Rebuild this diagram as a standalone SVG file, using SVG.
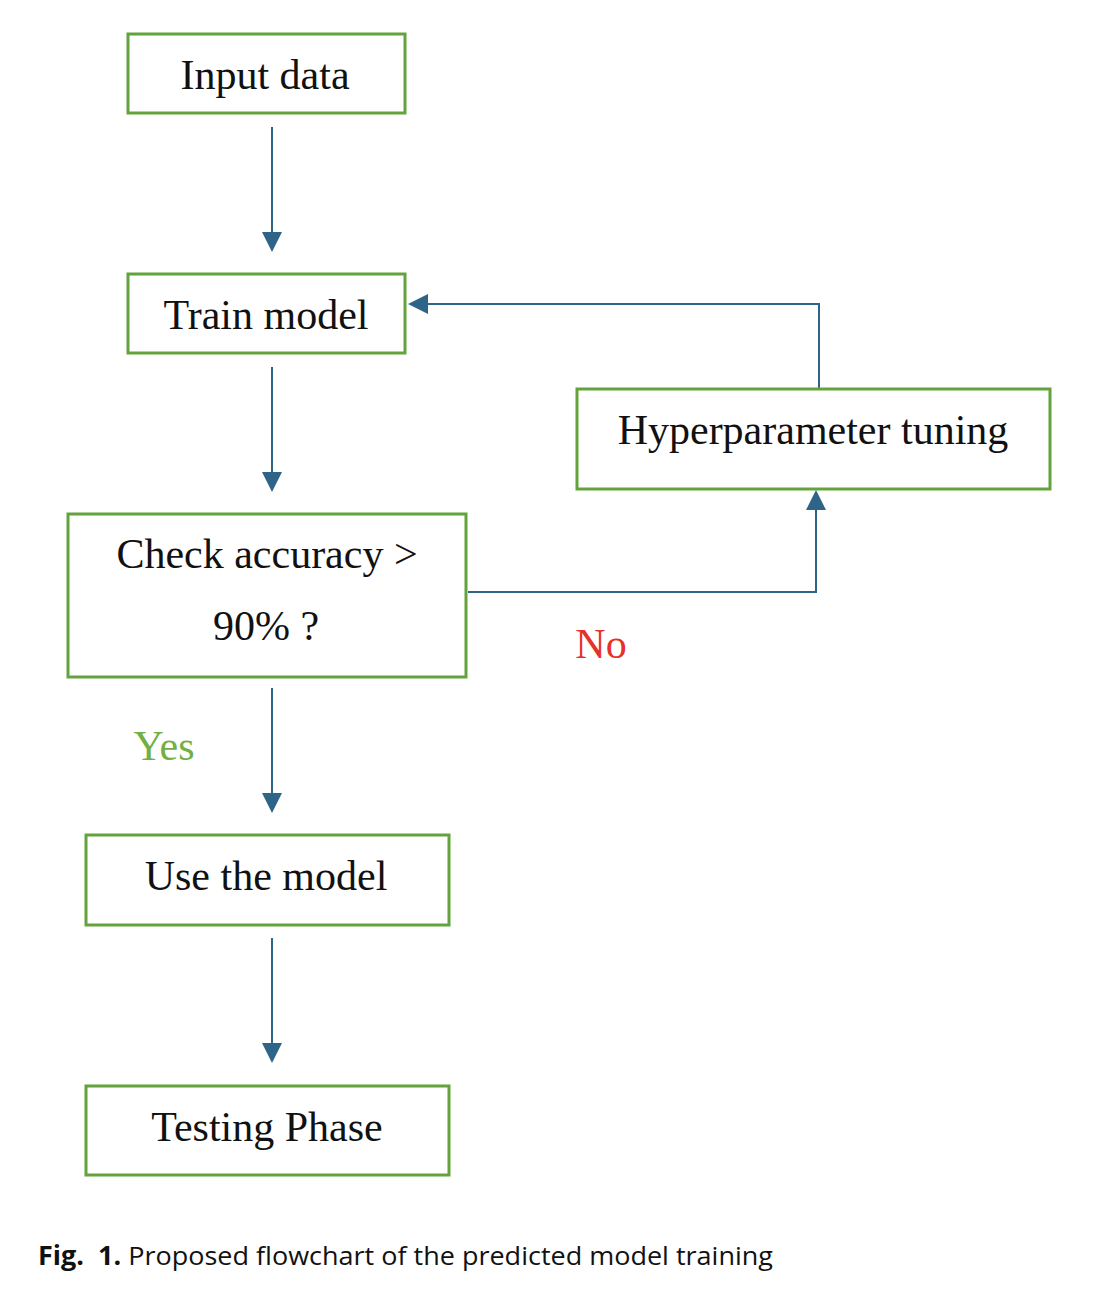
<svg xmlns="http://www.w3.org/2000/svg" width="1108" height="1294" viewBox="0 0 1108 1294">
<style>
.box{fill:#fff;stroke:#62a33c;stroke-width:3}
.t{font-family:"Liberation Serif","Times New Roman",serif;font-size:42px;fill:#111;text-anchor:middle}
.c{fill:none;stroke:#2f6489;stroke-width:2}
.cap{font-family:"Open Sans","Liberation Sans",sans-serif;font-size:26px;fill:#111}
</style>
<defs>
<marker id="ah" viewBox="0 0 10 10" refX="10" refY="5" markerWidth="10" markerHeight="10" markerUnits="userSpaceOnUse" orient="auto">
<path d="M0,0 L10,5 L0,10 Z" fill="#2f6489"/>
</marker>
</defs>
<rect width="1108" height="1294" fill="#fff"/>
<g id="connectors">
<path class="c" d="M272,127 V234"/>
<path d="M262,232 L282,232 L272,252 Z" fill="#2f6489"/>
<path class="c" d="M272,367 V474"/>
<path d="M262,472 L282,472 L272,492 Z" fill="#2f6489"/>
<path class="c" d="M272,688 V795"/>
<path d="M262,793 L282,793 L272,813 Z" fill="#2f6489"/>
<path class="c" d="M272,938 V1045"/>
<path d="M262,1043 L282,1043 L272,1063 Z" fill="#2f6489"/>
<path class="c" d="M819,389 V304 H426"/>
<path d="M428,294 L428,314 L408,304 Z" fill="#2f6489"/>
<path class="c" d="M468,592 H816 V508"/>
<path d="M806,510 L826,510 L816,490 Z" fill="#2f6489"/>
</g>
<g id="input"><rect class="box" x="128" y="34" width="277" height="79"/><text class="t" x="265" y="89">Input data</text></g>
<g id="train"><rect class="box" x="128" y="274" width="277" height="79"/><text class="t" x="266" y="329">Train model</text></g>
<g id="hyper"><rect class="box" x="577" y="389" width="473" height="100"/><text class="t" x="813" y="444">Hyperparameter tuning</text></g>
<g id="check"><rect class="box" x="68" y="514" width="398" height="163"/><text class="t" x="267" y="568">Check accuracy &gt;</text><text class="t" x="266" y="640">90% ?</text></g>
<g id="use"><rect class="box" x="86" y="835" width="363" height="90"/><text class="t" x="266" y="890">Use the model</text></g>
<g id="testing"><rect class="box" x="86" y="1086" width="363" height="89"/><text class="t" x="267" y="1141">Testing Phase</text></g>
<g id="labels">
<text class="t" x="601" y="658" style="fill:#e8302a">No</text>
<text class="t" x="164" y="760" style="fill:#72b043">Yes</text>
</g>
<text class="cap" x="38" y="1265" textLength="735" lengthAdjust="spacingAndGlyphs"><tspan font-weight="bold">Fig.&#160; 1.</tspan> Proposed flowchart of the predicted model training</text>
</svg>
